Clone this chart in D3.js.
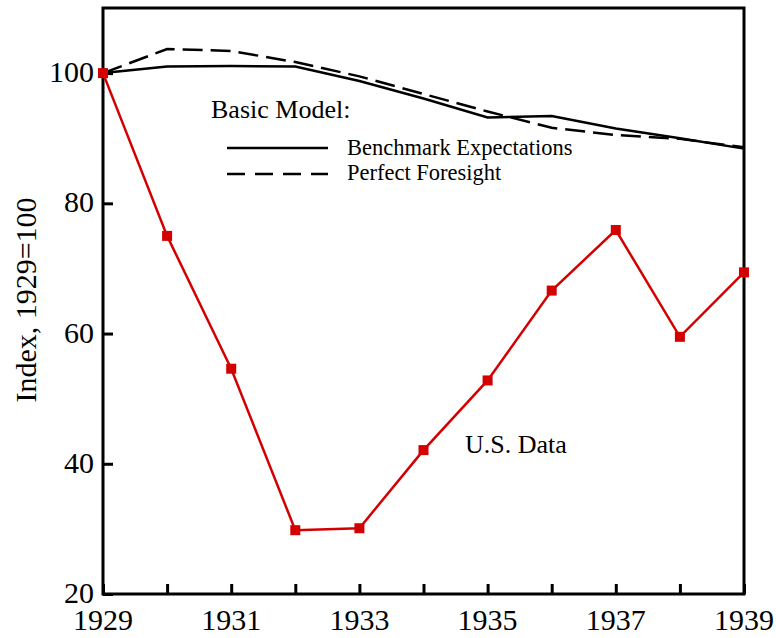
<!DOCTYPE html>
<html lang="en">
    <head>
        <meta charset="utf-8">
        <title>Index, 1929=100</title>
        <script type="text/javascript" src="https://cdn.jsdelivr.net/npm/d3@7"></script>
        <style>
            body { margin: 0; background: #fff; }
            text { font-family: "Liberation Serif", "Times New Roman", serif; fill: #000; }
        </style>
    </head>
    <body>
        <script type="text/javascript">
            // data
            var years = [1929, 1930, 1931, 1932, 1933, 1934, 1935, 1936, 1937, 1938, 1939];
            var usData = [100, 75, 54.6, 29.8, 30.1, 42.1, 52.8, 66.6, 75.9, 59.5, 69.4];
            var benchmark = [100, 101, 101.1, 101, 98.8, 96.1, 93.2, 93.4, 91.5, 90, 88.4];
            var foresight = [100, 103.7, 103.4, 101.7, 99.5, 96.8, 94.1, 91.6, 90.5, 89.9, 88.6];
            var xTickLabels = [1929, 1931, 1933, 1935, 1937, 1939];
            var yTickLabels = [20, 40, 60, 80, 100];

            var w = 776;
            var h = 638;
            var margin = {top: 8, right: 32, bottom: 44, left: 103};

            var svg = d3.select("body").append("svg").attr("width", w).attr("height", h);

            var x = d3.scaleLinear().domain([1929, 1939]).range([margin.left, w - margin.right]);
            var y = d3.scaleLinear().domain([20, 110]).range([h - margin.bottom, margin.top]);

            // frame
            svg.append("rect")
                .attr("x", x(1929))
                .attr("y", y(110))
                .attr("width", x(1939) - x(1929))
                .attr("height", y(20) - y(110))
                .attr("fill", "none")
                .attr("stroke", "#000")
                .attr("stroke-width", 3);

            // inward ticks
            var xAxis = d3.axisBottom(x).tickValues(years).tickSizeInner(-10).tickSizeOuter(0).tickFormat("");
            var gx = svg.append("g").attr("transform", "translate(0," + y(20) + ")").call(xAxis);
            gx.select(".domain").remove();
            gx.selectAll("line").attr("stroke-width", 3);

            var yAxis = d3.axisLeft(y).tickValues(yTickLabels).tickSizeInner(-10).tickSizeOuter(0).tickFormat("");
            var gy = svg.append("g").attr("transform", "translate(" + x(1929) + ",0)").call(yAxis);
            gy.select(".domain").remove();
            gy.selectAll("line").attr("stroke-width", 3);

            // tick labels
            svg.selectAll("text.xlab")
                .data(xTickLabels)
                .enter()
                .append("text")
                .attr("class", "xlab")
                .attr("x", function(d) { return x(d); })
                .attr("y", 630)
                .attr("text-anchor", "middle")
                .attr("font-size", "30px")
                .text(function(d) { return d; });

            svg.selectAll("text.ylab")
                .data(yTickLabels)
                .enter()
                .append("text")
                .attr("class", "ylab")
                .attr("x", 94)
                .attr("y", function(d) { return y(d) + 9; })
                .attr("text-anchor", "end")
                .attr("font-size", "30px")
                .text(function(d) { return d; });

            svg.append("text")
                .attr("transform", "translate(36,300) rotate(-90)")
                .attr("text-anchor", "middle")
                .attr("font-size", "30px")
                .text("Index, 1929=100");

            var line = d3.line()
                .x(function(d, i) { return x(years[i]); })
                .y(function(d) { return y(d); });

            svg.append("path")
                .datum(foresight)
                .attr("d", line)
                .attr("fill", "none")
                .attr("stroke", "#000")
                .attr("stroke-width", 2.5)
                .attr("stroke-dasharray", "20,8");

            svg.append("path")
                .datum(benchmark)
                .attr("d", line)
                .attr("fill", "none")
                .attr("stroke", "#000")
                .attr("stroke-width", 2.5);

            svg.append("path")
                .datum(usData)
                .attr("d", line)
                .attr("fill", "none")
                .attr("stroke", "#d40000")
                .attr("stroke-width", 2.5);

            svg.selectAll("rect.mark")
                .data(usData)
                .enter()
                .append("rect")
                .attr("class", "mark")
                .attr("x", function(d, i) { return x(years[i]) - 5; })
                .attr("y", function(d) { return y(d) - 5; })
                .attr("width", 10)
                .attr("height", 10)
                .attr("fill", "#d40000");

            // legend
            svg.append("text")
                .attr("x", 211)
                .attr("y", 118)
                .attr("font-size", "26px")
                .text("Basic Model:");

            svg.append("line")
                .attr("x1", 227).attr("x2", 328)
                .attr("y1", 148).attr("y2", 148)
                .attr("stroke", "#000")
                .attr("stroke-width", 2.5);
            svg.append("text")
                .attr("x", 347)
                .attr("y", 155)
                .attr("font-size", "22.5px")
                .text("Benchmark Expectations");

            svg.append("line")
                .attr("x1", 227).attr("x2", 328)
                .attr("y1", 174).attr("y2", 174)
                .attr("stroke", "#000")
                .attr("stroke-width", 2.5)
                .attr("stroke-dasharray", "18,10");
            svg.append("text")
                .attr("x", 347)
                .attr("y", 180)
                .attr("font-size", "22.5px")
                .text("Perfect Foresight");

            svg.append("text")
                .attr("x", 465)
                .attr("y", 453)
                .attr("font-size", "26px")
                .text("U.S. Data");
        </script>
    </body>
</html>
